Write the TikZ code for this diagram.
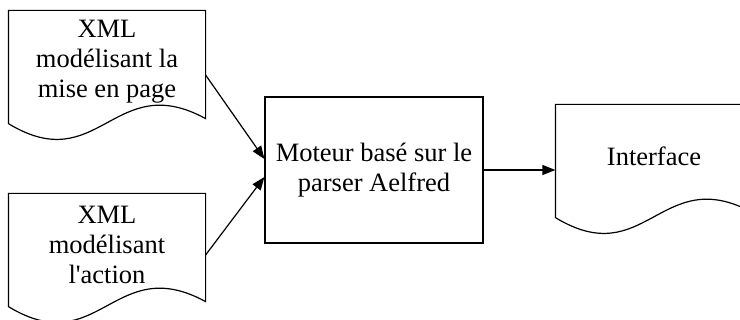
\documentclass[tikz,border=0pt]{standalone}
\usepackage{fontspec}
\setmainfont{Liberation Serif}
\usetikzlibrary{arrows.meta,calc}

\tikzset{
  feuille/.style={rectangle, minimum width=98pt, minimum height=56pt, align=center, inner sep=0pt},
  boite/.style={rectangle, draw, minimum width=109pt, minimum height=73pt, align=center},
  fleche/.style={-{Triangle[length=6.5pt,width=5pt]}},
}

% contour d'un document : trois cotes droits et un bas ondule,
% un peu plus bas que le texte
\newcommand{\vague}[1]{
  \draw ($(#1.north east)+(0,5)$) -- ($(#1.south east)+(0,0)$)
    .. controls ($(#1.south)+(7,-50)$) and ($(#1.south)+(-8,60)$) .. ($(#1.south west)+(0,5)$)
    -- ($(#1.north west)+(0,5)$) -- cycle;
}

\begin{document}
\begin{tikzpicture}[x=0.5pt, y=-0.5pt, line width=0.6pt,
    font=\fontsize{13.25}{15}\selectfont]
  \clip (0,0) rectangle (740,320);
  \fill[white] (0,0) rectangle (740,320);

  \node[feuille] (xml1) at (107,62) {XML\\modélisant la\\mise en page};
  \node[feuille] (xml2) at (107,245) {XML\\modélisant\\l\textquotesingle action};
  \node[boite] (moteur) at (374,170) {Moteur basé sur le\\parser Aelfred};
  \node[feuille] (interface) at (654,156) {Interface};

  \vague{xml1}
  \vague{xml2}
  \vague{interface}

  \draw[fleche] ($(xml1.east)+(0,13)$) to ($(moteur.west)+(0,-11)$);
  \draw[fleche] ($(xml2.east)+(0,10)$) to ($(moteur.west)+(0,7)$);
  \draw[fleche] (moteur.east) to (moteur.east -| interface.west);
\end{tikzpicture}
\end{document}
